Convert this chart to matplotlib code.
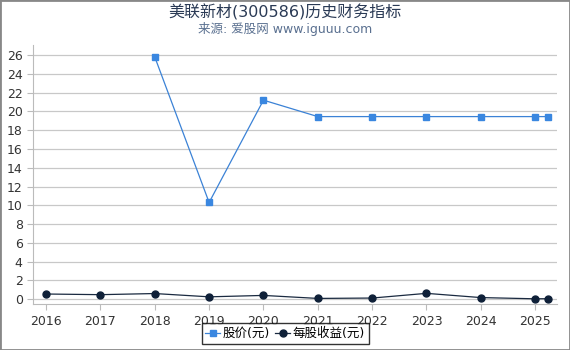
import matplotlib.pyplot as plt

plt.rcParams['font.family'] = ['DejaVu Sans', 'Noto Sans CJK SC']

years = [2016, 2017, 2018, 2019, 2020, 2021, 2022, 2023, 2024, 2025, 2025.24]
price_years = [2018, 2019, 2020, 2021, 2022, 2023, 2024, 2025, 2025.24]
price = [25.8, 10.3, 21.2, 19.45, 19.45, 19.45, 19.45, 19.45, 19.45]
eps = [0.55, 0.48, 0.6, 0.25, 0.4, 0.08, 0.12, 0.62, 0.17, 0.04, 0.05]
xticks = list(range(2016, 2026))

fig = plt.figure(figsize=(5.7, 3.5), dpi=100)
ax = fig.add_axes([0.058, 0.131, 0.919, 0.74])

ax.plot(price_years, price, color='#3b82d6', lw=0.9, marker='s', ms=5,
        markerfacecolor='#3a87e0', markeredgecolor='#3a87e0', label='股价(元)')
ax.plot(years, eps, color='#1a2a40', lw=0.9, marker='o', ms=5,
        markerfacecolor='#0f2038', markeredgecolor='#0f2038', label='每股收益(元)')

ax.set_xlim(2015.76, 2025.4)
ax.set_ylim(-0.53, 27.06)
ax.set_xticks(xticks)
ax.set_xticklabels([str(y) for y in xticks])
ax.set_yticks(range(0, 27, 2))
ax.grid(axis='y', color='#c8c8c8', lw=0.9)
ax.set_axisbelow(True)
for s in ['top', 'right']:
    ax.spines[s].set_visible(False)
for s in ['left', 'bottom']:
    ax.spines[s].set_color('#bbbbbb')
ax.tick_params(axis='x', colors='#bbbbbb', labelcolor='#333333', labelsize=9, length=4)
ax.tick_params(axis='y', colors='#bbbbbb', labelcolor='#333333', labelsize=9, length=4)

fig.text(0.5, 0.965, '美联新材(300586)历史财务指标', ha='center', va='center',
         fontsize=11.5, color='#2a3a55')
fig.text(0.5, 0.918, '来源: 爱股网 www.iguuu.com', ha='center', va='center',
         fontsize=9, color='#5a7090')

leg = fig.legend(loc='lower center', bbox_to_anchor=(0.5, 0.0), ncol=2,
                 fontsize=9, frameon=True, fancybox=False, handlelength=1.2,
                 handletextpad=0.2, columnspacing=0.4, borderpad=0.3)
leg.get_frame().set_edgecolor('#000000')
leg.get_frame().set_linewidth(1.0)

fig.patches.append(plt.Rectangle((0, 0), 1, 1, transform=fig.transFigure,
                                 fill=False, edgecolor='#888888', lw=2))

fig.savefig('out.png', dpi=100)
